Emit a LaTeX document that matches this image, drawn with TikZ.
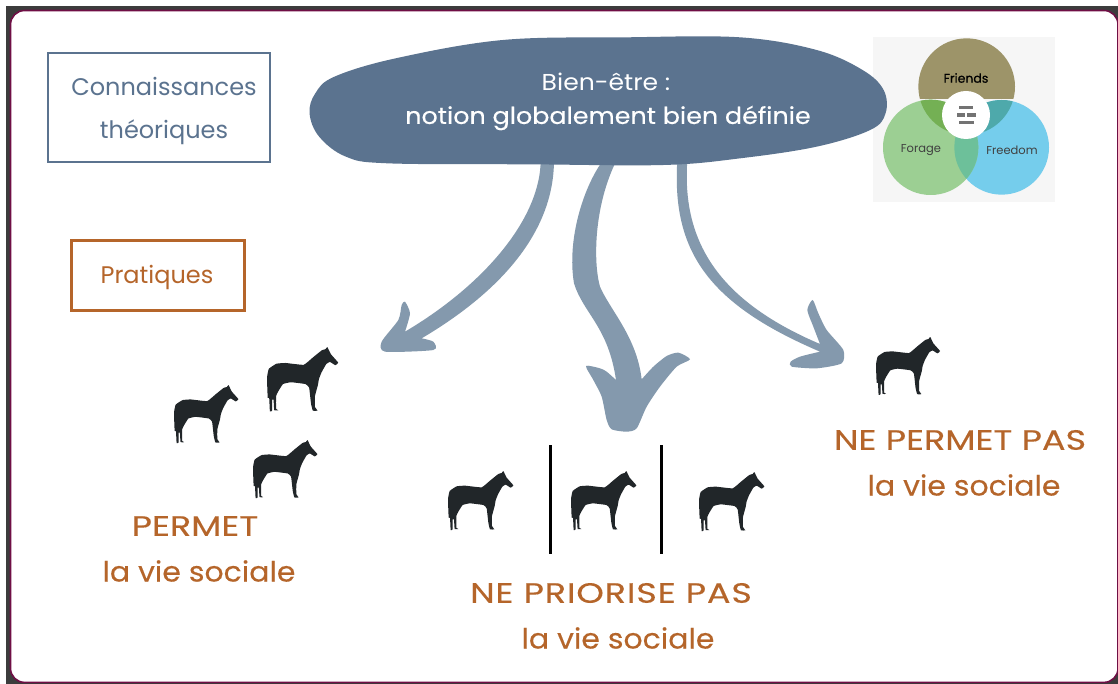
\documentclass[tikz,border=0pt]{standalone}
\usepackage{fontspec}
\setmainfont{Poppins}
\newfontfamily\capsfont[FakeStretch=1.25,FakeBold=0.25]{Poppins}
\newfontfamily\lowfont[FakeStretch=1.07,FakeBold=0.25]{Poppins}
\newfontfamily\cloudfont[FakeStretch=1.09]{Poppins}
\newfontfamily\cloudbold[FakeStretch=1.09,FakeBold=0.3]{Poppins}
\newfontfamily\vennbold[FakeBold=0.6]{Poppins}
\definecolor{slate}{HTML}{5B738F}
\definecolor{arrowc}{HTML}{8499AD}
\definecolor{ochre}{HTML}{B5652A}
\definecolor{frame}{HTML}{3C3C3C}
\definecolor{plum}{HTML}{6F0F45}
\definecolor{horsec}{HTML}{212629}
\definecolor{fr}{HTML}{9D9469}
\definecolor{fo}{HTML}{9CCF93}
\definecolor{fd}{HTML}{75CDEC}
\definecolor{ofo}{HTML}{74B054}
\definecolor{ofd}{HTML}{4EA9AB}
\definecolor{olr}{HTML}{6DC09A}
\definecolor{vbg}{HTML}{F6F6F6}
\tikzset{
  px/.style={x=1pt,y=-1pt},
  zoomed/.style={x=.33333pt,y=-.33333pt},
  flowarrow/.style={fill=arrowc,draw=none},
  bluebox/.style={draw=slate,line width=2pt,minimum width=222pt,minimum height=109pt,inner sep=0pt},
  orangebox/.style={draw=ochre,line width=2.5pt,minimum width=173pt,minimum height=70pt,inner sep=0pt},
  capslab/.style={text=ochre,font=\capsfont\fontsize{28}{32}\selectfont,inner sep=0pt,anchor=center},
  lowlab/.style={text=ochre,font=\lowfont\fontsize{28}{32}\selectfont,inner sep=0pt,anchor=center},
  blue/.style={text=slate,font=\fontsize{24}{28}\selectfont,inner sep=0pt},
  venn/.style={text=black,font=\fontsize{11.5}{13}\selectfont,inner sep=0pt},
  sep/.style={draw=black,line width=3pt}
}
\newcommand{\horsefig}[3]{%
  \begin{scope}[shift={(#1pt,-#2pt)},x=#3*.33333pt,y=-#3*.33333pt]
    \fill[horsec] plot[smooth cycle,tension=.2] coordinates {
      (166,0) (176,20) (196,43) (188,50) (173,41) (163,47) (150,70) (143,88) (140,105)
      (132,135) (132,165) (139,175) (126,175) (121,155) (116,112) (106,102) (66,97)
      (44,102) (31,122) (25,135) (25,170) (31,174) (20,174) (18,145) (14,145) (14,175)
      (8,177) (6,140) (2,140) (0,85) (5,60) (26,46) (51,44) (101,49) (126,29) (151,9) (161,6)};
  \end{scope}}
\begin{document}
\begin{tikzpicture}[px]
\useasboundingbox (0,0) rectangle (1118,684);
\fill[white] (0,0) rectangle (1118,684);
\fill[frame] (6,6) rectangle (1118,684);
\draw[fill=white,draw=plum,line width=1.6pt,rounded corners=14pt] (10.5,10.5) rectangle (1118,682.4);
% boxes
\node[bluebox] (kbox) at (158.5,108) {};
\node[orangebox] (pbox) at (158,275.5) {};
\node[blue] (k1) at (164,86.5) {Connaissances};
\node[blue] (k2) at (164,132) {théoriques};
\node[text=ochre,font=\fontsize{24}{28}\selectfont,inner sep=0pt] (p1) at (157,277) {Pratiques};
% venn
\begin{scope}[shift={(860pt,-20pt)},zoomed]
  \fill[vbg] (40,50) rectangle (585,545);
  \begin{scope}
    \clip (0,0) rectangle (700,236);
    \fill[fr] (320,200) circle[radius=145];
  \end{scope}
  \fill[fd] (425,382) circle[radius=142];
  \fill[fo] (212,382) circle[radius=143];
  \begin{scope}
    \clip (212,382) circle[radius=143];
    \fill[olr] (425,382) circle[radius=142];
    \fill[ofo] (320,200) circle[radius=145];
  \end{scope}
  \begin{scope}
    \clip (425,382) circle[radius=142];
    \fill[ofd] (320,200) circle[radius=145];
  \end{scope}
  \fill[white] (318,285) circle[radius=72];
  \fill[black!55] (297,257) rectangle (340,266);
  \fill[black!55] (292,280) rectangle (316,290);
  \fill[black!55] (322,280) rectangle (347,290);
  \fill[black!55] (297,303) rectangle (342,311);
\end{scope}
\node[venn,font=\vennbold\fontsize{12.5}{14}\selectfont] (v1) at (966,78) {Friends};
\node[venn,text=black!75] (v2) at (921,150) {Forage};
\node[venn,text=black!75] (v3) at (1012,150) {Freedom};
% arrows
\begin{scope}[shift={(370pt,-150pt)},zoomed]
  \path[flowarrow] (512,30) .. controls (512,200) and (350,400) .. (105,545)
    -- plot[smooth,tension=.4] coordinates {
    (105,545) (120,490) (105,455) (95,465) (85,510) (35,575) (45,605) (190,600) (190,575) (155,565)}
    .. controls (400,420) and (552,240) .. (552,30) -- cycle;
  \path[flowarrow] (700,30) .. controls (640,110) and (590,270) .. (612,400)
    .. controls (640,490) and (715,530) .. (738,690)
    -- plot[smooth,tension=.4] coordinates {
    (738,690) (710,665) (690,655) (648,648) (670,690) (695,740) (710,810) (725,838) (770,845) (800,835)
    (830,770) (870,710) (920,650) (960,628) (925,608) (890,618) (850,650) (815,688)}
    .. controls (800,560) and (720,480) .. (690,410)
    .. controls (670,340) and (670,170) .. (740,30) -- cycle;
  \path[flowarrow] (952,30) .. controls (935,270) and (1040,450) .. (1350,582)
    -- plot[smooth,tension=.4] coordinates {
    (1350,582) (1330,530) (1312,480) (1328,450) (1345,490) (1370,540) (1420,600) (1415,640) (1340,655)
    (1265,650) (1262,635) (1290,620) (1350,605)}
    .. controls (1010,460) and (905,300) .. (922,30) -- cycle;
\end{scope}
% cloud
\begin{scope}[shift={(300pt,-30pt)},x=.3827pt,y=-.33333pt]
  \fill[slate] plot[smooth cycle,tension=.6] coordinates {
    (25,250) (40,190) (90,140) (250,85) (530,30) (850,22) (1150,22) (1350,60) (1470,120)
    (1525,180) (1530,250) (1490,300) (1350,350) (1150,385) (950,405) (600,403) (230,400) (120,380) (50,320)};
\end{scope}
\node[text=white,font=\cloudfont\fontsize{23}{26}\selectfont,inner sep=0pt] (c1) at (606,82) {Bien-être :};
\node[text=white,font=\cloudbold\fontsize{23.3}{26}\selectfont,inner sep=0pt] (c2) at (608,118) {notion globalement bien définie};
% horses
\horsefig{174}{385}{.985}
\horsefig{267}{347}{1.09}
\horsefig{253}{440}{.985}
\horsefig{448}{471}{1}
\horsefig{571}{471}{1}
\horsefig{699}{472}{1}
\horsefig{876}{337}{.98}
% separators
\coordinate (s1a) at (550,445); \coordinate (s1b) at (550,554);
\coordinate (s2a) at (661,445); \coordinate (s2b) at (661,554);
\draw[sep] (s1a) -- (s1b);
\draw[sep] (s2a) -- (s2b);
% labels
\node[capslab] (l1) at (195,526) {PERMET};
\node[lowlab] (l2) at (199,571) {la vie sociale};
\node[capslab] (l3) at (611,593) {\addfontfeature{LetterSpace=3}NE PRIORISE PAS};
\node[lowlab] (l4) at (618,638) {la vie sociale};
\node[capslab] (l5) at (960,440) {NE PERMET PAS};
\node[lowlab] (l6) at (964,485) {la vie sociale};
\end{tikzpicture}
\end{document}
